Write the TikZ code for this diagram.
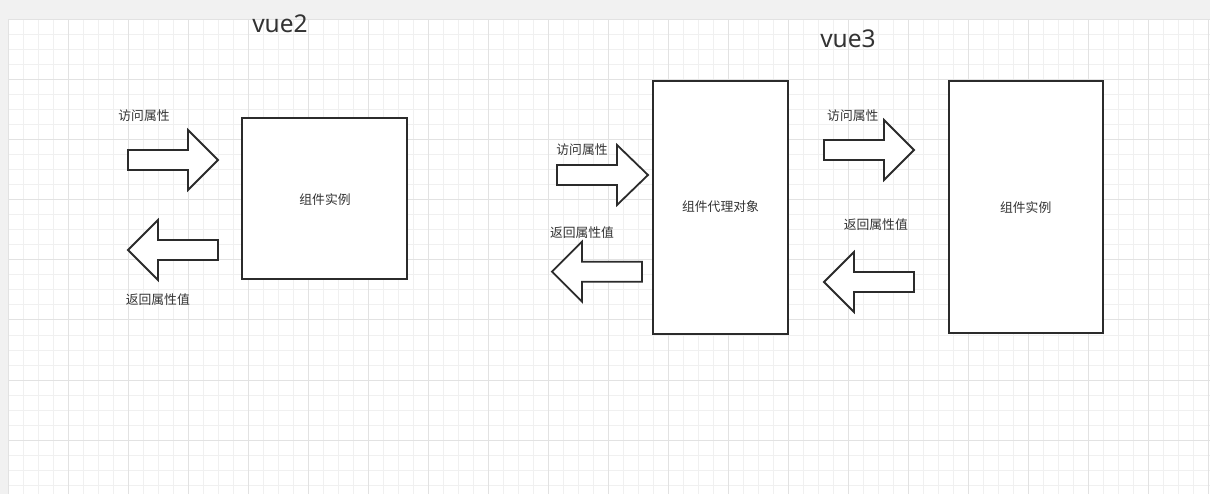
\documentclass[tikz,border=0pt]{standalone}
\usepackage{fontspec}
\newfontfamily\cjk{Noto Sans CJK SC}
\newfontfamily\latinsans{Noto Sans}
\definecolor{bandgrey}{HTML}{F1F1F1}
\definecolor{minorgrid}{HTML}{F0F0F0}
\definecolor{majorgrid}{HTML}{E2E2E2}
\definecolor{ink}{HTML}{2B2B2B}
\definecolor{txt}{HTML}{333333}
\begin{document}
\begin{tikzpicture}[x=1pt,y=-1pt,
  minorline/.style={draw=minorgrid,line width=1pt},
  majorline/.style={draw=majorgrid,line width=1pt},
  box/.style={draw=ink,line width=1.8pt,fill=white,rectangle,inner sep=0pt},
  blockarrow/.style={draw=ink,line width=1.8pt,fill=white,line join=miter},
  lbl/.style={text=txt,font=\cjk\fontsize{12.8}{14}\selectfont,inner sep=0pt},
  title/.style={text=txt,font=\latinsans\fontsize{24.5}{28}\selectfont,inner sep=0pt,anchor=base}]
% background and canvas
\fill[bandgrey] (0,0) rectangle (1210,494);
\fill[white] (8,20) rectangle (1210,494);
\useasboundingbox (0,0) rectangle (1210,494);
% grid
\foreach \i in {0,...,80} {\draw[minorline] ({8+15*\i},20) -- ({8+15*\i},494);}
\foreach \j in {0,...,32} {\draw[minorline] (8,{20+15*\j}) -- (1210,{20+15*\j});}
\foreach \i in {0,...,20} {\draw[majorline] ({8+60*\i},20) -- ({8+60*\i},494);}
\foreach \j in {0,...,8} {\draw[majorline] (8,{20+60*\j}) -- (1210,{20+60*\j});}
% titles
\node[title] (t2) at (280,33) {vue2};
\node[title] (t3) at (848,48) {vue3};
% boxes
\node[box,minimum width=165pt,minimum height=161pt] (inst2) at (324.5,198.5) {};
\node[lbl] (inst2t) at (325,200) {组件实例};
\node[box,minimum width=135pt,minimum height=253pt] (proxy) at (720.5,207.5) {};
\node[lbl] (proxyt) at (720.5,207) {组件代理对象};
\node[box,minimum width=154pt,minimum height=252pt] (inst3) at (1026,207) {};
\node[lbl] (inst3t) at (1025.7,207.7) {组件实例};
% block arrows vue2
\draw[blockarrow] (128,150) -- (188,150) -- (188,130) -- (218,160) -- (188,190) -- (188,170) -- (128,170) -- cycle;
\draw[blockarrow] (128,250) -- (158,220) -- (158,240) -- (218,240) -- (218,260) -- (158,260) -- (158,280) -- cycle;
% block arrows vue3 left
\draw[blockarrow] (557,165) -- (617,165) -- (617,145) -- (648,175) -- (617,205) -- (617,185) -- (557,185) -- cycle;
\draw[blockarrow] (552,271.7) -- (582,241.7) -- (582,261.7) -- (642,261.7) -- (642,281.7) -- (582,281.7) -- (582,301.7) -- cycle;
% block arrows vue3 right
\draw[blockarrow] (824,140) -- (884,140) -- (884,120) -- (914,150) -- (884,180) -- (884,160) -- (824,160) -- cycle;
\draw[blockarrow] (824,282) -- (854,252) -- (854,272) -- (914,272) -- (914,292) -- (854,292) -- (854,312) -- cycle;
% labels
\node[lbl] (a1) at (144,115.7) {访问属性};
\node[lbl] (a2) at (157.8,300) {返回属性值};
\node[lbl] (a3) at (582,150) {访问属性};
\node[lbl] (a4) at (582,232.3) {返回属性值};
\node[lbl] (a5) at (852.8,115.7) {访问属性};
\node[lbl] (a6) at (875.8,225) {返回属性值};
\end{tikzpicture}
\end{document}
